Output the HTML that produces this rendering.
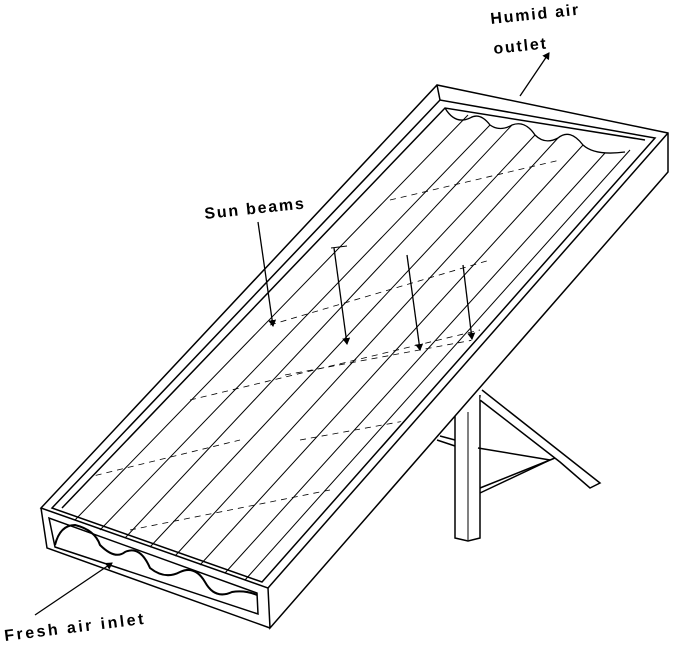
<!DOCTYPE html>
<html><head><style>
html,body{margin:0;padding:0;background:#fff;width:680px;height:648px;overflow:hidden}
svg{display:block}
text{font-family:"Liberation Sans",sans-serif;font-weight:bold;font-size:16px;fill:#000;letter-spacing:1.8px}
</style></head><body>
<svg width="680" height="648" viewBox="0 0 680 648" xmlns="http://www.w3.org/2000/svg">
<defs><marker id="ah" markerWidth="8" markerHeight="10" refX="6" refY="4" orient="auto" markerUnits="userSpaceOnUse"><path d="M0,0 L7,4 L0,8 Z" fill="#000"/></marker>
<clipPath id="cp"><path d="M62,508 L445,108 L645,140 L262,582 Z"/></clipPath></defs>
<g stroke="#000" fill="none" stroke-width="1.5">
<!-- stand -->
<path d="M455,410 L455,538 L468,541 L480,538 L480,395" fill="#fff"/>
<line x1="468" y1="412" x2="468" y2="540" stroke-width="1"/>
<path d="M482,390 L600,483 L590,488 L560,462 L480,400" fill="#fff"/>
<path d="M478,448 L550,460 L480,493"/>
<path d="M480,488 L555,458"/>
<path d="M437,440 L455,446 M440,436 L455,440"/>
<!-- frame outer -->
<path d="M41,508 L437,85 L668,133 L668,172 L270,628 L268,588 L41,508 Z" fill="#fff"/>
<path d="M41,508 L47,548 L270,628"/>
<path d="M268,588 L668,133"/>
<path d="M437,85 L440,100"/>
<!-- front opening -->
<path d="M49,518 L55,547 L258,614 L257,593 Z"/>
<path d="M55,545 Q60,525 75,525 Q95,530 100,545 Q115,560 125,552 Q140,545 150,568 Q165,580 180,572 Q195,565 205,582 Q215,600 232,592 Q245,590 257,595" stroke-width="2"/>
<!-- inner rim -->
<path d="M52,508 L440,100 L655,138 L262,582 Z"/>
<path d="M62,508 L445,108 L645,140"/>
<!-- back corrugation -->
<path d="M445,108 Q455,125 470,118 Q480,112 490,125 Q500,132 512,125 Q525,120 535,135 Q545,145 558,138 Q570,128 583,145 Q595,156 625,152" stroke-width="1.3"/>
</g>
<!-- corrugation lines -->
<g stroke="#000" stroke-width="1">
<line x1="75" y1="520" x2="468" y2="115"/>
<line x1="100" y1="530" x2="490" y2="125"/>
<line x1="125" y1="538" x2="512" y2="125"/>
<line x1="150" y1="547" x2="535" y2="135"/>
<line x1="175" y1="556" x2="558" y2="138"/>
<line x1="200" y1="565" x2="583" y2="145"/>
<line x1="225" y1="573" x2="605" y2="153"/>
<line x1="245" y1="580" x2="630" y2="150"/>
</g>
<g stroke="#000" stroke-width="0.8" stroke-dasharray="6,5" clip-path="url(#cp)">
<line x1="85" y1="478" x2="240" y2="440"/>
<line x1="130" y1="530" x2="330" y2="490"/>
<line x1="190" y1="400" x2="480" y2="330"/>
<line x1="270" y1="325" x2="490" y2="260"/>
<line x1="285" y1="375" x2="500" y2="335"/>
<line x1="300" y1="440" x2="520" y2="400"/>
<line x1="390" y1="200" x2="560" y2="160"/>
</g>
<!-- arrows -->
<g stroke="#000" stroke-width="1.3" marker-end="url(#ah)">
<line x1="258" y1="222" x2="273" y2="326"/>
<line x1="334" y1="248" x2="347" y2="344"/>
<line x1="407" y1="255" x2="420" y2="350"/>
<line x1="463" y1="265" x2="472" y2="339"/>
<line x1="520" y1="96" x2="549" y2="53"/>
<line x1="35" y1="615" x2="112" y2="563"/>
</g>
<line x1="331" y1="248" x2="347" y2="246" stroke="#000" stroke-width="1"/>
<text x="205" y="219" transform="rotate(-6 205 219)">Sun beams</text>
<text x="491" y="24" transform="rotate(-6 491 24)">Humid air</text>
<text x="494" y="54" transform="rotate(-6 494 54)">outlet</text>
<text x="5" y="641" transform="rotate(-7 5 641)" style="letter-spacing:2.5px">Fresh air inlet</text>
</svg>
</body></html>
